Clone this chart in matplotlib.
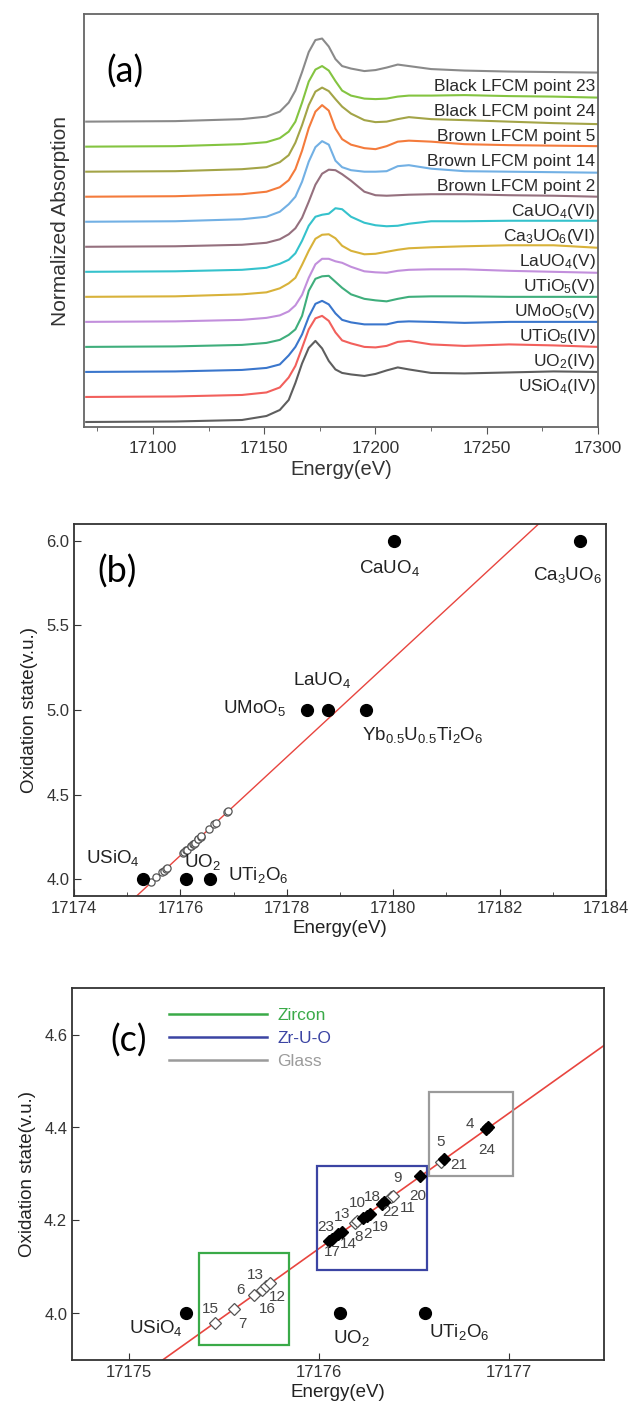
import numpy as np
import matplotlib
matplotlib.use('Agg')
import matplotlib.pyplot as plt
import matplotlib.transforms as mtransforms
from matplotlib.patches import Rectangle
from matplotlib.lines import Line2D
from matplotlib.ticker import MultipleLocator, FormatStrFormatter

plt.rcParams['font.family'] = ['Liberation Sans', 'DejaVu Sans']
plt.rcParams['mathtext.fontset'] = 'custom'
plt.rcParams['mathtext.rm'] = 'Liberation Sans'
plt.rcParams['mathtext.it'] = 'Liberation Sans:italic'
plt.rcParams['mathtext.bf'] = 'Liberation Sans:bold'

# ---------------- panel (a): XANES spectra ----------------
energy_grid = [17070, 17110, 17140, 17151, 17157, 17161, 17164, 17167, 17170, 17173,
               17176, 17179, 17182, 17185, 17189, 17195, 17200, 17205, 17210, 17215,
               17225, 17240, 17260, 17280, 17300]

usio4_iv = [0.0, 0.01, 0.04, 0.12, 0.24, 0.44, 0.78, 1.17, 1.48, 1.62, 1.47, 1.22, 1.05,
            0.98, 0.95, 0.92, 0.96, 1.03, 1.09, 1.05, 0.98, 0.97, 0.99, 1.01, 1.0]
uo2_iv = [0.0, 0.01, 0.04, 0.09, 0.19, 0.39, 0.62, 0.98, 1.35, 1.57, 1.62, 1.52, 1.29,
          1.13, 1.07, 1.0, 0.99, 1.02, 1.1, 1.12, 1.05, 1.02, 1.05, 1.03, 1.0]
utio5_iv = [0.0, 0.01, 0.04, 0.08, 0.15, 0.33, 0.5, 0.75, 1.1, 1.36, 1.42, 1.35, 1.17,
            1.04, 0.99, 0.95, 0.95, 0.95, 1.0, 1.01, 1.0, 0.98, 1.0, 1.0, 1.0]
umoo5_v = [0.0, 0.01, 0.04, 0.08, 0.14, 0.24, 0.35, 0.62, 1.12, 1.36, 1.41, 1.42, 1.3,
           1.18, 1.05, 0.96, 0.93, 0.91, 0.96, 1.0, 1.01, 1.01, 1.0, 1.0, 1.0]
utio5_v = [0.0, 0.01, 0.04, 0.08, 0.13, 0.21, 0.33, 0.54, 0.88, 1.15, 1.26, 1.26, 1.21,
           1.18, 1.1, 1.01, 0.99, 0.98, 1.02, 1.04, 1.05, 1.05, 1.02, 1.0, 0.98]
lauo4_v = [0.0, 0.01, 0.05, 0.09, 0.17, 0.27, 0.38, 0.64, 0.92, 1.16, 1.24, 1.25, 1.17,
           1.02, 0.92, 0.85, 0.86, 0.9, 0.94, 0.97, 0.99, 1.01, 1.03, 1.03, 0.98]
ca3uo6_vi = [0.0, 0.01, 0.04, 0.08, 0.16, 0.24, 0.37, 0.62, 0.92, 1.1, 1.14, 1.16, 1.27,
             1.25, 1.1, 0.98, 0.93, 0.91, 0.92, 0.96, 1.01, 1.01, 1.02, 1.02, 1.02]
cauo4_vi = [0.0, 0.01, 0.04, 0.08, 0.15, 0.25, 0.37, 0.58, 0.9, 1.24, 1.46, 1.54, 1.53,
            1.45, 1.32, 1.1, 1.03, 1.02, 1.03, 1.04, 1.05, 1.05, 1.03, 1.02, 1.0]
brown_pt2 = [0.0, 0.01, 0.05, 0.1, 0.2, 0.35, 0.5, 0.8, 1.2, 1.49, 1.61, 1.54, 1.22,
             1.09, 1.03, 1.0, 1.0, 1.01, 1.11, 1.13, 1.06, 1.01, 1.0, 0.99, 0.98]
brown_pt14 = [0.0, 0.01, 0.05, 0.1, 0.19, 0.33, 0.55, 0.92, 1.37, 1.7, 1.83, 1.72, 1.36,
              1.15, 1.04, 0.97, 0.95, 1.01, 1.1, 1.12, 1.1, 1.05, 1.03, 1.02, 1.01]
brown_pt5 = [0.0, 0.01, 0.05, 0.09, 0.19, 0.33, 0.58, 0.93, 1.33, 1.6, 1.68, 1.61, 1.45,
             1.3, 1.16, 1.03, 0.99, 1.0, 1.05, 1.09, 1.05, 1.03, 1.0, 0.97, 0.95]
black_pt24 = [0.0, 0.01, 0.05, 0.09, 0.17, 0.3, 0.5, 0.88, 1.3, 1.54, 1.61, 1.52, 1.31,
              1.12, 1.02, 0.96, 0.95, 0.96, 1.0, 1.02, 1.02, 1.03, 1.01, 1.0, 0.98]
black_pt23 = [0.0, 0.01, 0.05, 0.1, 0.2, 0.38, 0.62, 0.99, 1.39, 1.63, 1.66, 1.5, 1.25,
              1.11, 1.06, 1.01, 1.03, 1.08, 1.14, 1.11, 1.05, 1.02, 1.0, 0.99, 0.98]

spectra_labels = ['USiO$_4$(IV)', 'UO$_2$(IV)', 'UTiO$_5$(IV)', 'UMoO$_5$(V)', 'UTiO$_5$(V)',
                  'LaUO$_4$(V)', 'Ca$_3$UO$_6$(VI)', 'CaUO$_4$(VI)', 'Brown LFCM point 2',
                  'Brown LFCM point 14', 'Brown LFCM point 5', 'Black LFCM point 24',
                  'Black LFCM point 23']
spectra = [usio4_iv, uo2_iv, utio5_iv, umoo5_v, utio5_v, lauo4_v, ca3uo6_vi, cauo4_vi,
           brown_pt2, brown_pt14, brown_pt5, black_pt24, black_pt23]
spectra_colors = ['#5e5e5e', '#f2605c', '#3a76cc', '#3fae7c', '#c28fdc', '#d8b23a',
                  '#35c2cc', '#95707e', '#72b0e4', '#f47b3c', '#a3a447', '#84c441', '#8a8a8a']
stack_step = 0.5

# ---------------- panels (b), (c): edge position vs oxidation state ----------------
ref_names = ['USiO$_4$', 'UO$_2$', 'UTi$_2$O$_6$', 'UMoO$_5$', 'LaUO$_4$',
             'Yb$_{0.5}$U$_{0.5}$Ti$_2$O$_6$', 'CaUO$_4$', 'Ca$_3$UO$_6$']
ref_energy = [17175.30, 17176.11, 17176.56, 17178.38, 17178.78, 17179.49, 17180.02, 17183.51]
ref_ox = [4.0, 4.0, 4.0, 5.0, 5.0, 5.0, 6.0, 6.0]

sample_ids = ['15', '7', '6', '16', '13', '12', '23', '17', '1', '14', '3', '8', '10', '2',
              '19', '18', '22', '11', '9', '20', '5', '21', '4', '24']
sample_energy = [17175.45, 17175.55, 17175.66, 17175.70, 17175.72, 17175.74, 17176.05,
                 17176.07, 17176.10, 17176.12, 17176.19, 17176.20, 17176.23, 17176.25,
                 17176.27, 17176.33, 17176.34, 17176.38, 17176.39, 17176.53, 17176.64,
                 17176.66, 17176.88, 17176.89]
sample_ox = [3.980, 4.010, 4.040, 4.050, 4.060, 4.065, 4.155, 4.160, 4.170, 4.175, 4.195,
             4.198, 4.205, 4.210, 4.215, 4.235, 4.240, 4.250, 4.252, 4.295, 4.325, 4.333,
             4.397, 4.400]
sample_filled = [False, False, False, False, False, False, True, True, True, True, False,
                 False, True, True, True, True, True, False, False, True, False, True,
                 True, True]

group_names = ['Zircon', 'Zr-U-O', 'Glass']
group_energy_range = [(17175.37, 17175.84), (17175.99, 17176.57), (17176.58, 17177.02)]
group_ox_range = [(3.932, 4.130), (4.093, 4.318), (4.295, 4.477)]
group_colors = ['#3aaa48', '#3b44a3', '#9b9b9b']

# label placement (pixels: dx right, dy up)
ref_label_b = {'USiO$_4$': (-3, 21, 'right'), 'UO$_2$': (-2, 17, 'left'),
               'UTi$_2$O$_6$': (18, 4, 'left'), 'UMoO$_5$': (-21, 2, 'right'),
               'LaUO$_4$': (-6, 30, 'center'), 'Yb$_{0.5}$U$_{0.5}$Ti$_2$O$_6$': (-4, -25, 'left'),
               'CaUO$_4$': (-5, -27, 'center'), 'Ca$_3$UO$_6$': (-12, -34, 'center')}
ref_label_c = {'USiO$_4$': (-3, -14, 'right'), 'UO$_2$': (-7, -25, 'left'),
               'UTi$_2$O$_6$': (4, -18, 'left')}
sample_label_off = {'15': (-4, 14), '7': (9, -15), '6': (-14, 5), '13': (-10, 11),
                    '16': (5, -19), '12': (8, -14), '23': (-3, 14), '17': (0, -13),
                    '1': (0, 17), '14': (7, -12), '3': (-10, 9), '8': (2, -16),
                    '10': (-5, 15), '2': (1, -18), '19': (10, -13), '18': (-9, 7),
                    '22': (7, -10), '11': (17, -11), '9': (4, 18), '20': (-2, -20),
                    '5': (0, 20), '21': (14, -6), '4': (-16, 5), '24': (-1, -23)}

PX = 72.0 / 100.0  # pixel -> point at dpi 100
TAG_FONT = ['Lato', 'DejaVu Sans']
LINE_RED = '#e8453f'

fig = plt.figure(figsize=(6.29, 14.11), dpi=100)

# ---------------- (a) ----------------
axa = fig.add_axes([84 / 629, 1 - 427 / 1411, 514 / 629, 413 / 1411])
blend = mtransforms.blended_transform_factory(axa.transAxes, axa.transData)
for i, (vals, col, lab) in enumerate(zip(spectra, spectra_colors, spectra_labels)):
    off = i * stack_step
    axa.plot(energy_grid, np.asarray(vals) + off, color=col, lw=1.5)
    axa.text(0.995, off + 0.71, lab, transform=blend, ha='right', va='center',
             fontsize=12.5, color='#2a2a2a')
axa.set_xlim(17069, 17300)
axa.set_ylim(-0.1, 8.15)
axa.set_yticks([])
axa.xaxis.set_major_locator(MultipleLocator(50))
axa.xaxis.set_minor_locator(MultipleLocator(25))
axa.xaxis.set_major_formatter(FormatStrFormatter('%d'))
axa.tick_params(axis='x', which='both', direction='out', labelsize=12.5, pad=5,
                color='#555555', labelcolor='#333333')
axa.tick_params(axis='x', which='major', length=5)
axa.tick_params(axis='x', which='minor', length=3)
for s in axa.spines.values():
    s.set_color('#666666')
    s.set_linewidth(1.3)
axa.set_xlabel('Energy(eV)', fontsize=14.5, labelpad=3, color='#333333')
axa.set_ylabel('Normalized Absorption', fontsize=15, labelpad=10, color='#333333')
axa.text(0.080, 0.86, '(a)', transform=axa.transAxes, ha='center', va='center',
         fontsize=26, family=TAG_FONT)

coef = np.polyfit(sample_energy, sample_ox, 1)
filled = np.asarray(sample_filled)
se = np.asarray(sample_energy)
so = np.asarray(sample_ox)


def style_xy(ax):
    for s in ax.spines.values():
        s.set_color('#333333')
        s.set_linewidth(1.3)
    ax.tick_params(which='both', direction='in', labelsize=12, color='#333333',
                   labelcolor='#333333')
    ax.tick_params(which='major', length=5)
    ax.tick_params(which='minor', length=3)
    ax.xaxis.set_major_formatter(FormatStrFormatter('%d'))
    ax.yaxis.set_major_formatter(FormatStrFormatter('%.1f'))


# ---------------- (b) ----------------
axb = fig.add_axes([74 / 629, 1 - 896 / 1411, 532 / 629, 372 / 1411])
axb.set_xlim(17174, 17184)
axb.set_ylim(3.9, 6.1)
xs = np.array(axb.get_xlim())
axb.plot(xs, np.polyval(coef, xs), color=LINE_RED, lw=1.0, zorder=1)
axb.plot(se, so, 'o', mfc='white', mec='#555555', mew=0.9, ms=5.2, zorder=2)
axb.plot(ref_energy, ref_ox, 'o', color='black', ms=8.5, zorder=3)
for name, e, o in zip(ref_names, ref_energy, ref_ox):
    dx, dy, ha = ref_label_b[name]
    axb.annotate(name, (e, o), xytext=(dx * PX, dy * PX), textcoords='offset points',
                 ha=ha, va='center', fontsize=13.5, color='#222222')
axb.xaxis.set_major_locator(MultipleLocator(2))
axb.xaxis.set_minor_locator(MultipleLocator(1))
axb.yaxis.set_major_locator(MultipleLocator(0.5))
style_xy(axb)
axb.set_xlabel('Energy(eV)', fontsize=13.5, labelpad=3, color='#222222')
axb.set_ylabel('Oxidation state(v.u.)', fontsize=13.5, labelpad=6, color='#222222')
axb.text(0.081, 0.871, '(b)', transform=axb.transAxes, ha='center', va='center',
         fontsize=26, family=TAG_FONT)

# ---------------- (c) ----------------
axc = fig.add_axes([72 / 629, 1 - 1360 / 1411, 532 / 629, 372 / 1411])
axc.set_xlim(17174.7, 17177.5)
axc.set_ylim(3.9, 4.7)
xs = np.array(axc.get_xlim())
axc.plot(xs, np.polyval(coef, xs), color=LINE_RED, lw=1.2, zorder=1)
for (e0, e1), (o0, o1), col in zip(group_energy_range, group_ox_range, group_colors):
    axc.add_patch(Rectangle((e0, o0), e1 - e0, o1 - o0, fill=False, ec=col, lw=1.6,
                            zorder=1.5))
axc.plot(se[~filled], so[~filled], 'D', mfc='white', mec='#555555', mew=0.9, ms=6.5,
         zorder=2)
axc.plot(se[filled], so[filled], 'D', color='black', ms=6.5, zorder=3)
for sid, e, o in zip(sample_ids, sample_energy, sample_ox):
    dx, dy = sample_label_off[sid]
    axc.annotate(sid, (e, o), xytext=(dx * PX, dy * PX), textcoords='offset points',
                 ha='center', va='center', fontsize=11, color='#444444')
for name, e, o in zip(ref_names, ref_energy, ref_ox):
    if name in ref_label_c:
        axc.plot([e], [o], 'o', color='black', ms=8.5, zorder=3)
        dx, dy, ha = ref_label_c[name]
        axc.annotate(name, (e, o), xytext=(dx * PX, dy * PX), textcoords='offset points',
                     ha=ha, va='center', fontsize=13.5, color='#222222')
handles = [Line2D([], [], color=c, lw=1.8, label=n) for n, c in zip(group_names, group_colors)]
leg = axc.legend(handles=handles, loc='upper left', bbox_to_anchor=(0.17, 0.965),
                 frameon=False, handlelength=5.6, handletextpad=0.6, labelspacing=0.45,
                 fontsize=12.5, borderaxespad=0)
for txt, c in zip(leg.get_texts(), group_colors):
    txt.set_color(c)
axc.xaxis.set_major_locator(MultipleLocator(1))
axc.yaxis.set_major_locator(MultipleLocator(0.2))
style_xy(axc)
axc.set_xlabel('Energy(eV)', fontsize=13.5, labelpad=3, color='#222222')
axc.set_ylabel('Oxidation state(v.u.)', fontsize=13.5, labelpad=6, color='#222222')
axc.text(0.107, 0.86, '(c)', transform=axc.transAxes, ha='center', va='center',
         fontsize=26, family=TAG_FONT)

fig.savefig('out.png', dpi=100)
